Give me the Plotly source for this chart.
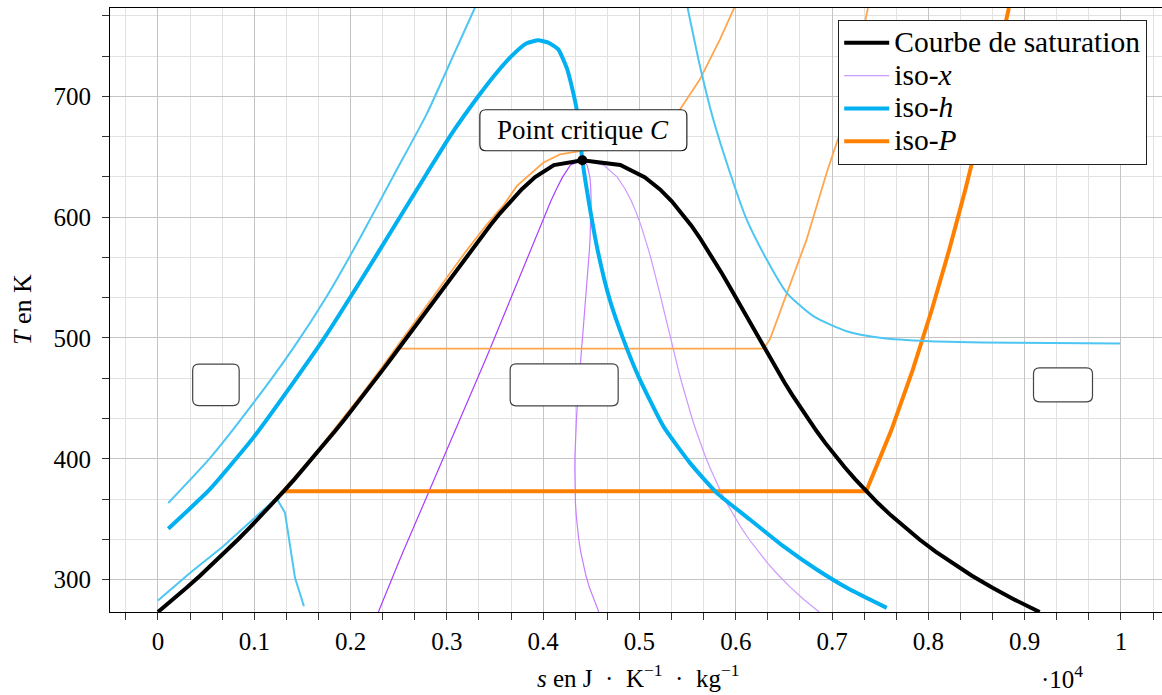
import plotly.graph_objects as go

# ---------------- data (s in 10^4 J.K^-1.kg^-1, T in K) ----------------
T_SAT = [273.16, 283.15, 293.15, 303.15, 313.15, 323.15, 333.15, 343.15, 353.15,
         363.15, 373.15, 383.15, 393.15, 403.15, 413.15, 423.15, 433.15, 443.15,
         453.15, 463.15, 473.15, 483.15, 493.15, 503.15, 513.15, 523.15, 533.15,
         543.15, 553.15, 563.15, 573.15, 583.15, 593.15, 603.15, 613.15, 623.15,
         633.15, 643.15, 647.10]
S_LIQ = [0.0, 0.01511, 0.02965, 0.04368, 0.05724, 0.07038, 0.08313, 0.09551, 0.10756,
         0.11929, 0.13072, 0.14188, 0.15279, 0.16346, 0.17392, 0.18418, 0.19426, 0.20417,
         0.21392, 0.22355, 0.23305, 0.24245, 0.25177, 0.26101, 0.27020, 0.27935, 0.28849,
         0.29765, 0.30685, 0.31612, 0.32552, 0.33510, 0.34494, 0.35518, 0.36601, 0.37784,
         0.39167, 0.41112, 0.44070]
S_VAP = [0.91556, 0.88999, 0.86661, 0.84520, 0.82556, 0.80748, 0.79082, 0.77540, 0.76111,
         0.74781, 0.73542, 0.72386, 0.71292, 0.70264, 0.69284, 0.68371, 0.67491, 0.66650,
         0.65841, 0.65059, 0.64302, 0.63563, 0.62840, 0.62128, 0.61423, 0.60722, 0.60019,
         0.59310, 0.58585, 0.57836, 0.57059, 0.56244, 0.55372, 0.54422, 0.53356, 0.52110,
         0.50536, 0.48012, 0.44070]
S_CRIT = 0.4407
T_CRIT = 647.1

QUALITIES = [0.25, 0.5, 0.75]

# iso-h (thick: through the critical point)
HC_S = [0.0107, 0.0540, 0.0990, 0.1405, 0.1752, 0.2098, 0.2443, 0.2790, 0.3040, 0.3344,
        0.3517, 0.3690, 0.3829, 0.3949, 0.4053, 0.4157, 0.4250, 0.4296, 0.4348, 0.4407,
        0.4482, 0.4570, 0.4690, 0.4832, 0.4990, 0.5247, 0.5524, 0.5802, 0.6147, 0.6493,
        0.6840, 0.7186, 0.7567]
HC_T = [342.1, 374.8, 417.5, 463.1, 503.0, 546.5, 591.0, 636.0, 668.0, 702.0,
        719.6, 734.8, 743.9, 746.4, 744.5, 738.9, 722.4, 708.5, 689.2, 647.1,
        609.0, 571.0, 532.0, 499.0, 468.0, 427.0, 396.6, 371.8, 349.7, 327.6,
        308.3, 291.7, 276.6]
H_HI_S = [0.0107, 0.0540, 0.0990, 0.1405, 0.1752, 0.2098, 0.2443, 0.2790, 0.3066, 0.3292]
H_HI_T = [363.4, 400.5, 446.0, 491.6, 534.3, 582.7, 633.9, 685.3, 733.6, 773.5]
H_LO_S = [0.0, 0.0332, 0.0678, 0.0990, 0.1215, 0.1250, 0.1319, 0.1423, 0.1516]
H_LO_T = [282.6, 305.5, 327.6, 349.7, 366.3, 364.9, 355.2, 301.4, 277.9]
H_MID_S = [0.5496, 0.5628, 0.5766, 0.5940, 0.6113, 0.6321, 0.6529, 0.6805, 0.7152,
           0.7497, 0.8017, 0.8882, 0.9990]
H_MID_T = [774.8, 725.1, 681.0, 636.8, 598.1, 565.0, 537.4, 518.1, 505.6,
           500.2, 497.3, 496.0, 495.4]

# iso-P (thick: 1 atm)
P_ATM_S = [0.13072, 0.73542, 0.7613, 0.7836, 0.8035, 0.8217, 0.8385, 0.8545, 0.8695, 0.8836]
P_ATM_T = [373.15, 373.15, 423.15, 473.15, 523.15, 573.15, 623.15, 673.15, 723.15, 773.15]
P_MID_S = [0.2499, 0.6286, 0.6355, 0.6529, 0.6736, 0.6944, 0.7152, 0.7376]
P_MID_T = [491.1, 491.1, 498.8, 537.4, 581.6, 636.8, 686.5, 774.8]
P_SUP_S = [0.0, 0.0292, 0.0565, 0.0821, 0.1063, 0.1292, 0.1511, 0.1720, 0.1921, 0.2115,
           0.2303, 0.2487, 0.2668, 0.2848, 0.3028, 0.3212, 0.3408, 0.3600, 0.3725, 0.4000,
           0.4174, 0.4380, 0.4600, 0.4800, 0.5000, 0.5200, 0.5421, 0.5628, 0.5836, 0.5992]
P_SUP_T = [273.15, 293.15, 313.15, 333.15, 353.15, 373.15, 393.15, 413.15, 433.15, 453.15,
           473.15, 493.15, 513.15, 533.15, 553.15, 573.15, 593.15, 611.0, 625.7, 645.0,
           652.0, 654.7, 656.5, 659.0, 664.0, 674.0, 689.2, 714.1, 747.2, 774.8]

TICK_S = [0, 0.1, 0.2, 0.3, 0.4, 0.5, 0.6, 0.7, 0.8, 0.9, 1]
TICK_S_LABELS = ["0", "0.1", "0.2", "0.3", "0.4", "0.5", "0.6", "0.7", "0.8", "0.9", "1"]
TICK_T = [300, 400, 500, 600, 700]
TICK_T_LABELS = ["300", "400", "500", "600", "700"]

LEGEND_NAMES = ["Courbe de saturation", "iso-<i>x</i>", "iso-<i>h</i>", "iso-<i>P</i>"]

# ---------------- styles ----------------
FONT = "Liberation Serif"
C_BLACK = "#000000"
C_X = ["#a93cff", "#c77dff", "#cc99ff"]
C_H_THICK = "#00b0f0"
C_H_THIN = "#4dc6f4"
C_P_THICK = "#ff8000"
C_P_THIN = "#ffa64d"


def lg(name):
    return f'<span style="font-size:29.5px">{name}</span>'


fig = go.Figure()

# iso-x lines
for i, q in enumerate(QUALITIES):
    xs = [sl + q * (sv - sl) for sl, sv in zip(S_LIQ, S_VAP)]
    fig.add_trace(go.Scatter(x=xs, y=T_SAT, mode="lines",
                             line=dict(color=C_X[i], width=1.2),
                             name=lg(LEGEND_NAMES[1]), legendrank=2,
                             showlegend=(i == 2), hoverinfo="skip"))

# iso-P lines
fig.add_trace(go.Scatter(x=P_SUP_S, y=P_SUP_T, mode="lines",
                         line=dict(color=C_P_THIN, width=1.8), showlegend=False))
fig.add_trace(go.Scatter(x=P_MID_S, y=P_MID_T, mode="lines",
                         line=dict(color=C_P_THIN, width=1.8), showlegend=False))
fig.add_trace(go.Scatter(x=P_ATM_S, y=P_ATM_T, mode="lines",
                         line=dict(color=C_P_THICK, width=4),
                         name=lg(LEGEND_NAMES[3]), legendrank=4))

# iso-h lines
fig.add_trace(go.Scatter(x=H_HI_S, y=H_HI_T, mode="lines", line_shape="spline",
                         line=dict(color=C_H_THIN, width=2, smoothing=0.6), showlegend=False))
fig.add_trace(go.Scatter(x=H_LO_S, y=H_LO_T, mode="lines",
                         line=dict(color=C_H_THIN, width=2), showlegend=False))
fig.add_trace(go.Scatter(x=H_MID_S, y=H_MID_T, mode="lines", line_shape="spline",
                         line=dict(color=C_H_THIN, width=2, smoothing=0.6), showlegend=False))
fig.add_trace(go.Scatter(x=HC_S, y=HC_T, mode="lines", line_shape="spline",
                         line=dict(color=C_H_THICK, width=4, smoothing=0.5),
                         name=lg(LEGEND_NAMES[2]), legendrank=3))

# saturation dome
dome_s = S_LIQ + S_VAP[::-1]
dome_t = T_SAT + T_SAT[::-1]
fig.add_trace(go.Scatter(x=dome_s, y=dome_t, mode="lines",
                         line=dict(color=C_BLACK, width=4),
                         name=lg(LEGEND_NAMES[0]), legendrank=1))
fig.add_trace(go.Scatter(x=[S_CRIT], y=[T_CRIT], mode="markers",
                         marker=dict(color=C_BLACK, size=10), showlegend=False))


def rrect(x0, x1, y0, y1, r):
    return (f"M {x0+r},{y0} L {x1-r},{y0} Q {x1},{y0} {x1},{y0+r} "
            f"L {x1},{y1-r} Q {x1},{y1} {x1-r},{y1} L {x0+r},{y1} "
            f"Q {x0},{y1} {x0},{y1-r} L {x0},{y0+r} Q {x0},{y0} {x0+r},{y0} Z")


shapes = []
# box of the critical-point label (pixel sized, anchored at C)
shapes.append(dict(type="path", xref="x", yref="y", xsizemode="pixel", ysizemode="pixel",
                   xanchor=S_CRIT, yanchor=T_CRIT,
                   path=rrect(-102.5, 104.5, 9.5, 50.5, 6),
                   fillcolor="white", line=dict(color="#222222", width=1.2), layer="above"))
# empty region boxes
for cx, w, h in [(0.0602, 46.5, 41.5), (0.4218, 108, 42), (0.9398, 59, 34)]:
    shapes.append(dict(type="path", xref="x", yref="y", xsizemode="pixel", ysizemode="pixel",
                       xanchor=cx, yanchor=461.2,
                       path=rrect(-w / 2, w / 2, -h / 2, h / 2, 6),
                       fillcolor="white", line=dict(color="#444444", width=1.2), layer="above"))

NB = "\u00a0"
annotations = [
    dict(x=S_CRIT, y=T_CRIT, xref="x", yref="y", text="Point critique <i>C</i>",
         showarrow=False, xshift=1, yshift=30, font=dict(family=FONT, size=27, color="black")),
    dict(x=(22 - 110) / 1052, y=0.5, xref="paper", yref="paper", text="<i>T</i> en K",
         textangle=-90, showarrow=False, xanchor="center", yanchor="middle",
         font=dict(family=FONT, size=26, color="black")),
    dict(x=(638 - 110) / 1052, y=(612 - 676) / 604, xref="paper", yref="paper",
         text=f"<i>s</i> en J{NB}{NB}·{NB}{NB}K<sup>−1</sup>{NB}{NB}·{NB}{NB}kg<sup>−1</sup>",
         showarrow=False,
         xanchor="center", yanchor="middle", font=dict(family=FONT, size=25, color="black")),
    dict(x=(1062 - 110) / 1052, y=(612 - 677) / 604, xref="paper", yref="paper",
         text="·10<sup>4</sup>", showarrow=False, xanchor="center", yanchor="middle",
         font=dict(family=FONT, size=25, color="black")),
]

fig.update_layout(
    width=1162, height=695,
    margin=dict(l=110, r=0, t=8, b=83),
    paper_bgcolor="white", plot_bgcolor="white",
    font=dict(family=FONT, size=25, color="black"),
    shapes=shapes, annotations=annotations,
    legend=dict(x=(1147 - 110) / 1052, y=(612 - 20) / 604, xanchor="right", yanchor="top",
                bgcolor="white", bordercolor="#222222", borderwidth=1.2,
                font=dict(family=FONT, size=23, color="black"),
                itemwidth=45, tracegroupgap=0),
    showlegend=True,
)

fig.update_xaxes(range=[-0.0498, 1.0426], tickvals=TICK_S, ticktext=TICK_S_LABELS,
                 ticks="outside", ticklen=7, tickcolor="#333333", tickwidth=1,
                 showline=True, linecolor="black", linewidth=1.2, mirror=True,
                 showgrid=True, gridcolor="#c4c4c4", gridwidth=1, zeroline=False,
                 ticklabelstandoff=0,
                 minor=dict(tick0=0, dtick=1 / 30, ticks="outside", ticklen=7,
                            tickcolor="#333333", showgrid=True, gridcolor="#e2e2e2"))
fig.update_yaxes(range=[273.15, 773.15], tickvals=TICK_T, ticktext=TICK_T_LABELS,
                 ticks="outside", ticklen=7, tickcolor="#333333", tickwidth=1,
                 showline=True, linecolor="black", linewidth=1.2, mirror=False,
                 showgrid=True, gridcolor="#c4c4c4", gridwidth=1, zeroline=False,
                 ticklabelstandoff=6,
                 minor=dict(tick0=300, dtick=100 / 3, ticks="outside", ticklen=7,
                            tickcolor="#333333", showgrid=True, gridcolor="#e2e2e2"))

fig.write_html("out.html", config={"displayModeBar": False},
               post_script="document.body.style.margin='0px';")
